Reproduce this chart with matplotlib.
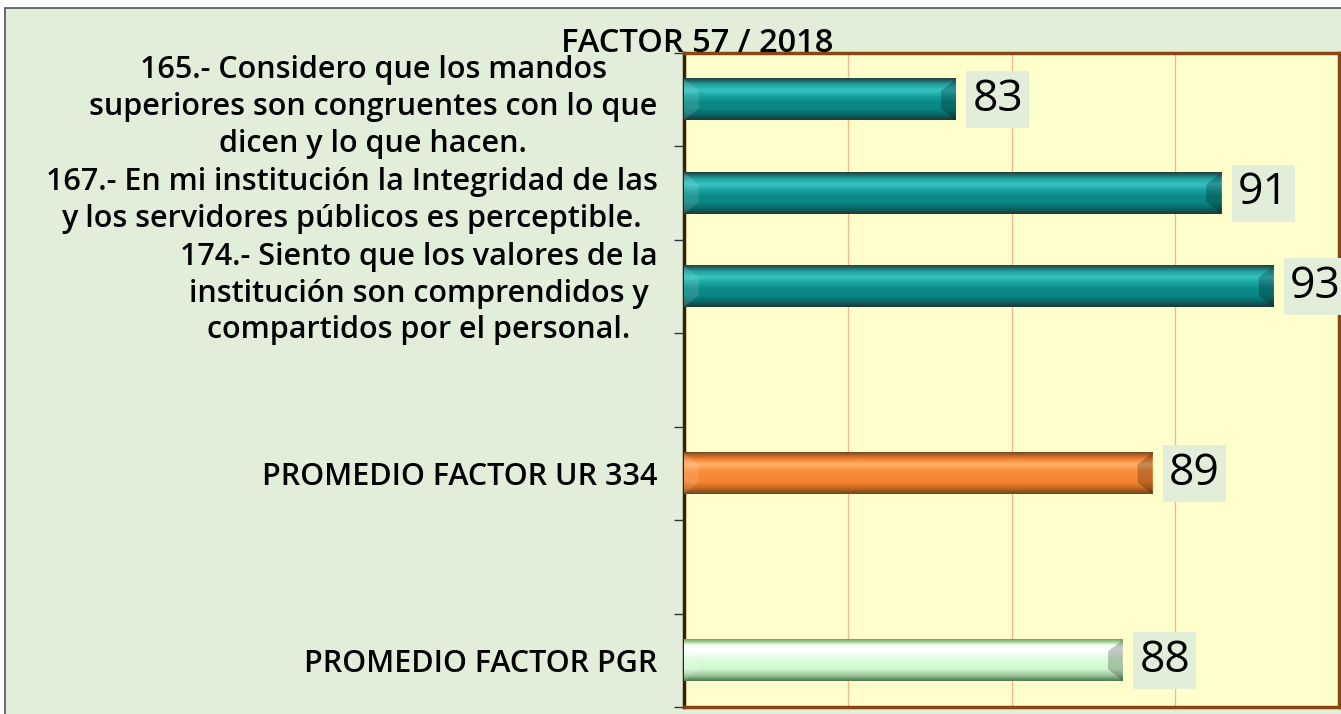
import numpy as np
import matplotlib.pyplot as plt
from matplotlib.patches import Rectangle, Polygon
from matplotlib.colors import to_rgb

# datos del gráfico (las posiciones vacías son categorías en blanco)
categorias = [
    '165.- Considero que los mandos\nsuperiores son congruentes con lo que\ndicen y lo que hacen.',
    '167.- En mi institución la Integridad de las\ny los servidores públicos es perceptible.',
    '174.- Siento que los valores de la\ninstitución son comprendidos y\ncompartidos por el personal.',
    '',
    'PROMEDIO FACTOR UR 334',
    '',
    'PROMEDIO FACTOR PGR',
]
valores = [83.3, 91.4, 93.0, np.nan, 89.3, np.nan, 88.4]
estilos = ['teal', 'teal', 'teal', None, 'naranja', None, 'verde']
titulo = 'FACTOR 57 / 2018'

# degradados verticales (de arriba hacia abajo) para imitar el bisel de Excel
degradados = {
    'teal': ['#23403e', '#1f9f9e', '#36c3c1', '#19a3a1', '#0a8a88', '#0a8886', '#076c6a', '#1d3a39'],
    'naranja': ['#7a4a22', '#ee7a2e', '#ffb468', '#fb9140', '#f88836', '#f58532', '#c9681f', '#6e4626'],
    'verde': ['#6aa85a', '#f4fff4', '#ffffff', '#e2fde2', '#d6fcd6', '#d0f7d0', '#a2caa2', '#4e7a4e'],
}
bordes = {'teal': '#2b3b3a', 'naranja': '#7a5030', 'verde': '#5c8f52'}

FONDO = '#e2eed9'
fuente = 'Open Sans'

fig = plt.figure(figsize=(13.41, 7.14), dpi=100, facecolor='white')
fig.patches.append(Rectangle((5 / 1341, -0.01), 1.0, 1.01 - 8 / 714, transform=fig.transFigure,
                             facecolor=FONDO, edgecolor='#555555', linewidth=1.2, zorder=-10))

ax = fig.add_axes([684 / 1341, 1 - 707 / 714, (1339 - 684) / 1341, (707 - 53) / 714])
ax.set_zorder(1)
ax.set_facecolor('#ffffcc')

x_min, x_max = 75, 95
n = len(categorias)
y = np.arange(n)
alto = 0.44


def gradiente(nombre, filas=80):
    cols = np.array([to_rgb(c) for c in degradados[nombre]])
    t = np.linspace(0, 1, len(cols))
    tt = np.linspace(0, 1, filas)
    return np.stack([np.interp(tt, t, cols[:, k]) for k in range(3)], axis=1)[:, None, :]


for yi, v, est in zip(y, valores, estilos):
    if est is None or np.isnan(v):
        continue
    ax.barh(yi, v - x_min, left=x_min, height=alto, color=bordes[est], zorder=2)
    ax.imshow(gradiente(est), extent=(x_min, v, yi + alto / 2, yi - alto / 2),
              origin='upper', aspect='auto', interpolation='bilinear', zorder=3)
    # facetas de los extremos
    bx = 0.45
    by = alto * 0.28
    ax.add_patch(Polygon([(v, yi - alto / 2), (v, yi + alto / 2), (v - bx, yi + alto / 2 - by),
                          (v - bx, yi - alto / 2 + by)], closed=True,
                         facecolor='black', alpha=0.22, linewidth=0, zorder=4))
    ax.add_patch(Polygon([(x_min, yi - alto / 2), (x_min, yi + alto / 2), (x_min + bx, yi + alto / 2 - by),
                          (x_min + bx, yi - alto / 2 + by)], closed=True,
                         facecolor='white', alpha=0.12, linewidth=0, zorder=4))
    ax.annotate(f'{round(v)}', xy=(v, yi), xytext=(12, 0), textcoords='offset points',
                ha='left', va='center', fontsize=32, family=fuente, color='black', zorder=6,
                bbox=dict(boxstyle='square,pad=0.14', facecolor=FONDO, edgecolor='none'))

ax.set_xlim(x_min, x_max)
ax.set_ylim(n - 0.5, -0.5)
ax.set_xticks([80, 85, 90])
ax.tick_params(axis='x', length=0, labelbottom=False)
ax.grid(axis='x', color='#f6b98c', linewidth=1, zorder=1)
ax.set_axisbelow(True)

ax.set_yticks(y)
ax.set_yticklabels(categorias, fontsize=22, family=fuente, fontweight='semibold')
for t in ax.get_yticklabels():
    t.set_multialignment('center')
    t.set_linespacing(1.3)
ax.tick_params(axis='y', which='major', length=0, pad=19)
ax.set_yticks(np.arange(-0.5, n, 1), minor=True)
ax.tick_params(axis='y', which='minor', length=7, width=1, color='#333333', direction='out')

for lado in ['top', 'right', 'bottom']:
    ax.spines[lado].set_color('#8b4513')
    ax.spines[lado].set_linewidth(2.5)
ax.spines['left'].set_color('#3a1e08')
ax.spines['left'].set_linewidth(2.5)

fig.text(697 / 1341, 1 - 52 / 714, titulo, ha='center', va='baseline',
         fontsize=23.5, family=fuente, fontweight='semibold', zorder=10)

fig.savefig('out.png', dpi=100, facecolor=fig.get_facecolor())
